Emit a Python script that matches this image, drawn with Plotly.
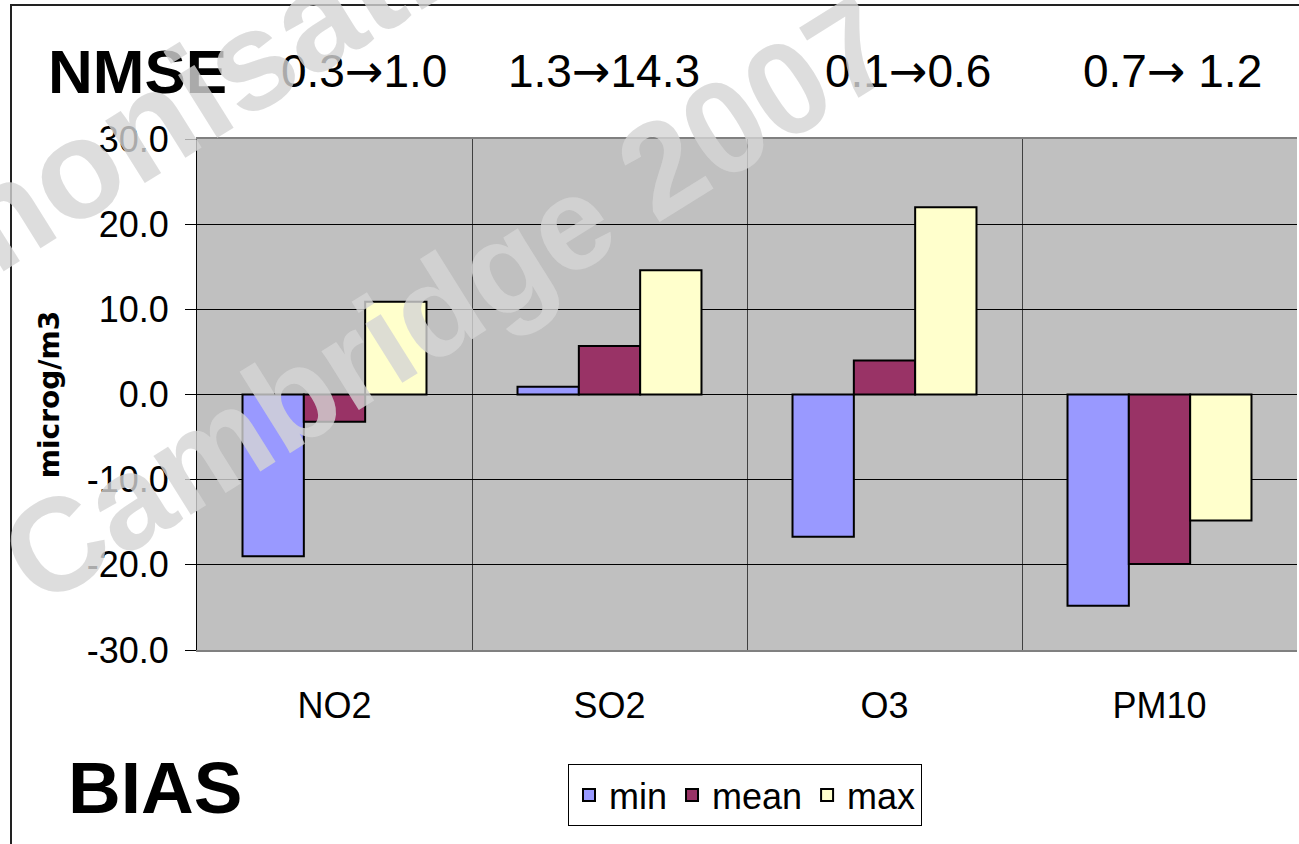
import plotly.graph_objects as go

# Pollutants on the category axis
categories = ["NO2", "SO2", "O3", "PM10"]

# Bias statistics (microg/m3) for each pollutant
series_names = ["min", "mean", "max"]
bias_min = [-19.0, 0.9, -16.7, -24.8]
bias_mean = [-3.2, 5.7, 4.0, -19.9]
bias_max = [10.9, 14.6, 22.0, -14.8]

# NMSE change per pollutant, printed above the plot
nmse_from = ["0.3", "1.3", "0.1", "0.7"]
nmse_to = ["1.0", "14.3", "0.6", " 1.2"]

y_ticks = [-30, -20, -10, 0, 10, 20, 30]

series_values = [bias_min, bias_mean, bias_max]
series_colors = ["#9999FF", "#993366", "#FFFFCC"]

W, H = 1299, 844
M_L, M_R, M_T, M_B = 197, 2, 139, 194
FONT = "Liberation Sans, Arial, sans-serif"


def px_x(px):
    """Figure pixel column -> paper x."""
    return (px - M_L) / (W - M_L - M_R)


def px_y(py):
    """Figure pixel row (from top) -> paper y."""
    return (H - M_B - py) / (H - M_T - M_B)


positions = list(range(len(categories)))

fig = go.Figure()
for name, vals, col in zip(series_names, series_values, series_colors):
    fig.add_trace(go.Bar(
        x=positions, y=vals, name=name,
        marker=dict(color=col, line=dict(color="black", width=2)),
    ))

fig.update_layout(
    width=W, height=H,
    margin=dict(l=M_L, r=M_R, t=M_T, b=M_B),
    paper_bgcolor="white",
    plot_bgcolor="#C0C0C0",
    font=dict(family=FONT, color="black", size=36),
    barmode="group",
    bargap=0.331,
    bargroupgap=0,
    showlegend=True,
    legend=dict(
        orientation="h",
        x=px_x(745), xanchor="center",
        y=px_y(764), yanchor="top",
        bgcolor="white", bordercolor="black", borderwidth=1,
        font=dict(size=36, family=FONT),
        itemclick=False,
    ),
)

fig.update_xaxes(
    type="linear",
    range=[-0.5, len(categories) - 0.5],
    tickvals=positions, ticktext=categories,
    ticks="", tickfont=dict(size=36),
    ticklabelstandoff=23,
    showgrid=False, zeroline=False,
    showline=True, linecolor="#808080", linewidth=2, mirror=True,
    minor=dict(tick0=0.5, dtick=1, showgrid=True,
               gridcolor="#404040", gridwidth=1, ticks=""),
)

fig.update_yaxes(
    range=[y_ticks[0], y_ticks[-1]],
    tickvals=y_ticks, ticktext=[f"{v:.1f}" for v in y_ticks],
    ticks="outside", ticklen=11, tickcolor="black", tickwidth=1,
    ticklabelstandoff=9,
    tickfont=dict(size=36),
    showgrid=True, gridcolor="black", gridwidth=1,
    zeroline=True, zerolinecolor="black", zerolinewidth=1,
    showline=True, linecolor="black", linewidth=1,
    title=dict(text="<b>microg/m3</b>",
               font=dict(family="DejaVu Sans, sans-serif", size=28),
               standoff=18),
)

# Outer chart frame
fig.add_shape(type="rect", xref="paper", yref="paper",
              x0=px_x(11), x1=px_x(1310), y0=px_y(860), y1=px_y(5),
              line=dict(color="#222222", width=2), layer="below")

ARROW = '<span style="font-family:DejaVu Sans">\u2192</span>'

annotations = []
# NMSE heading and the per-pollutant values
annotations.append(dict(text="<b>NMSE</b>", x=px_x(229), y=px_y(72),
                        xref="paper", yref="paper", xanchor="right",
                        yanchor="middle", showarrow=False,
                        font=dict(size=62, family=FONT)))
nmse_x = [364, 604, 908, 1172]
for a, b, xc in zip(nmse_from, nmse_to, nmse_x):
    annotations.append(dict(text=a + ARROW + b, x=px_x(xc), y=px_y(71.5),
                            xref="paper", yref="paper", xanchor="center",
                            yanchor="middle", showarrow=False,
                            font=dict(size=46, family=FONT)))
# BIAS heading
annotations.append(dict(text="<b>BIAS</b>", x=px_x(66), y=px_y(787),
                        xref="paper", yref="paper", xanchor="left",
                        yanchor="middle", showarrow=False,
                        font=dict(size=73, family=FONT)))
# Conference watermark across the chart
wm_color = "rgba(212,212,212,0.8)"
annotations.append(dict(text="<b>Harmonisation</b>", x=px_x(150), y=px_y(122),
                        xref="paper", yref="paper", xanchor="center",
                        yanchor="middle", showarrow=False, textangle=-32,
                        font=dict(size=140, family=FONT, color=wm_color)))
annotations.append(dict(text="<b>Cambridge 2007</b>", x=px_x(448), y=px_y(300),
                        xref="paper", yref="paper", xanchor="center",
                        yanchor="middle", showarrow=False, textangle=-32,
                        font=dict(size=132, family=FONT, color=wm_color)))
fig.update_layout(annotations=annotations)

fig.write_html("out.html")
